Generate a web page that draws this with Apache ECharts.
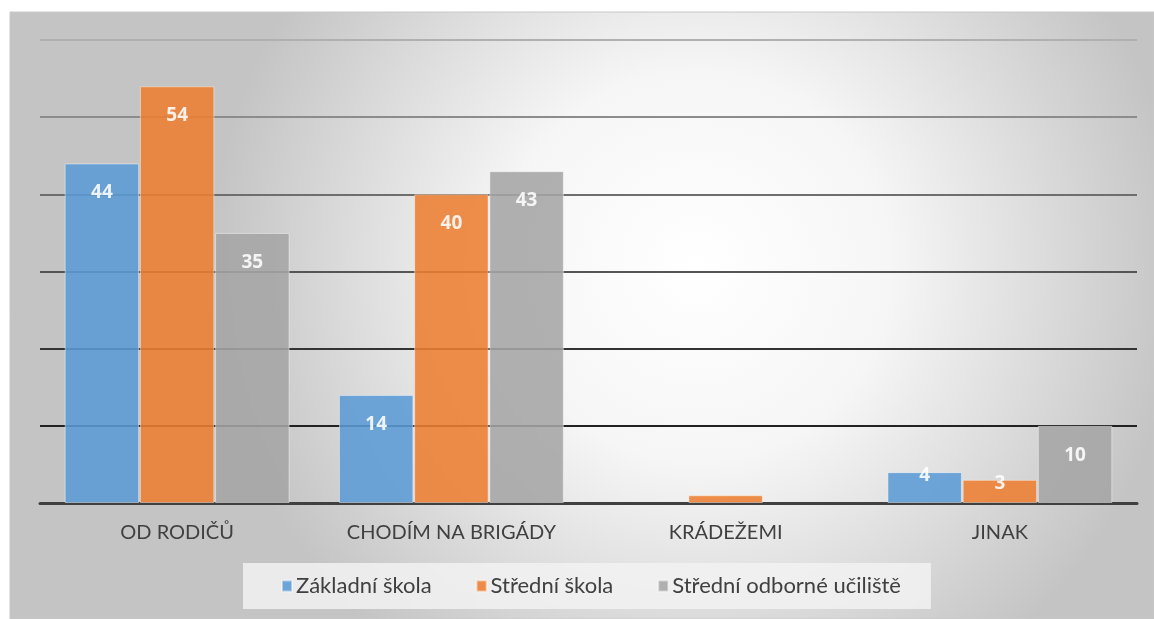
<!DOCTYPE html>
<html>
<head>
<meta charset="utf-8">
<script src="https://cdn.jsdelivr.net/npm/echarts@6/dist/echarts.min.js"></script>
<style>
  html, body { margin: 0; padding: 0; background: #fff; }
  #chart { width: 1154px; height: 619px; }
</style>
</head>
<body>
<div id="chart"></div>
<script>
// data
var categories = ["OD RODIČŮ", "CHODÍM NA BRIGÁDY", "KRÁDEŽEMI", "JINAK"];
var seriesNames = ["Základní škola", "Střední škola", "Střední odborné učiliště"];
var zakladni = [44, 14, 0, 4];
var stredni = [54, 40, 1, 3];
var odborne = [35, 43, 0, 10];
var colors = ["#5b9bd5", "#ed7d31", "#a5a5a5"];

var chart = echarts.init(document.getElementById("chart"));

function makeSeries(name, data, color) {
    // zero -> no bar; short bars get their label pushed up to the bar top
    var items = data.map(function (v) {
        if (v === 0) return "-";
        if (v < 8) return { value: v, label: { position: "top", distance: -13 } };
        return v;
    });
    return {
        name: name,
        type: "bar",
        data: items,
        barGap: "1%",
        barCategoryGap: "18%",
        itemStyle: {
            color: color,
            opacity: 0.88,
            borderColor: "rgba(255,255,255,0.5)",
            borderWidth: 1
        },
        label: {
            show: true,
            position: "insideTop",
            distance: 20,
            color: "#fff",
            fontWeight: "bold",
            fontSize: 19,
            fontFamily: "Noto Sans",
            formatter: function (p) { return p.value >= 2 ? p.value : ""; }
        },
        z: 3
    };
}

var option = {
    animation: false,
    graphic: [{
        type: "rect",
        z: -10,
        silent: true,
        shape: { x: 10, y: 12, width: 1144, height: 607 },
        style: {
            fill: new echarts.graphic.RadialGradient(0.6, 0.42, 0.8, [
                { offset: 0, color: "#ffffff" },
                { offset: 0.4, color: "#f6f6f6" },
                { offset: 1, color: "#c4c4c4" }
            ]),
            stroke: "#c8c8c8",
            lineWidth: 1
        }
    }],
    grid: { left: 40, right: 17, top: 40, bottom: 116 },
    legend: {
        data: seriesNames,
        top: 563,
        left: 243,
        itemWidth: 10,
        itemHeight: 11,
        itemGap: 44,
        icon: "rect",
        backgroundColor: "rgba(242,242,242,0.85)",
        padding: [12, 30, 12, 38],
        textStyle: { fontSize: 22, color: "#404040", fontFamily: "Lato", padding: [0, 0, 0, -1] }
    },
    xAxis: {
        type: "category",
        data: categories,
        axisLine: { show: true, lineStyle: { color: "#404040", width: 3 } },
        axisTick: { show: false },
        axisLabel: { fontSize: 20, color: "#404040", fontFamily: "Lato", margin: 20 }
    },
    yAxis: {
        type: "value",
        min: 0,
        max: 60,
        interval: 10,
        axisLabel: { show: false },
        axisLine: { show: false },
        axisTick: { show: false },
        splitLine: {
            lineStyle: {
                width: 2,
                color: ["rgba(0,0,0,0)", "#222222", "#333333", "#555555", "#6e6e6e", "#8c8c8c", "#b0b0b0"]
            }
        }
    },
    series: [
        makeSeries(seriesNames[0], zakladni, colors[0]),
        makeSeries(seriesNames[1], stredni, colors[1]),
        makeSeries(seriesNames[2], odborne, colors[2])
    ]
};

chart.setOption(option);
</script>
</body>
</html>
